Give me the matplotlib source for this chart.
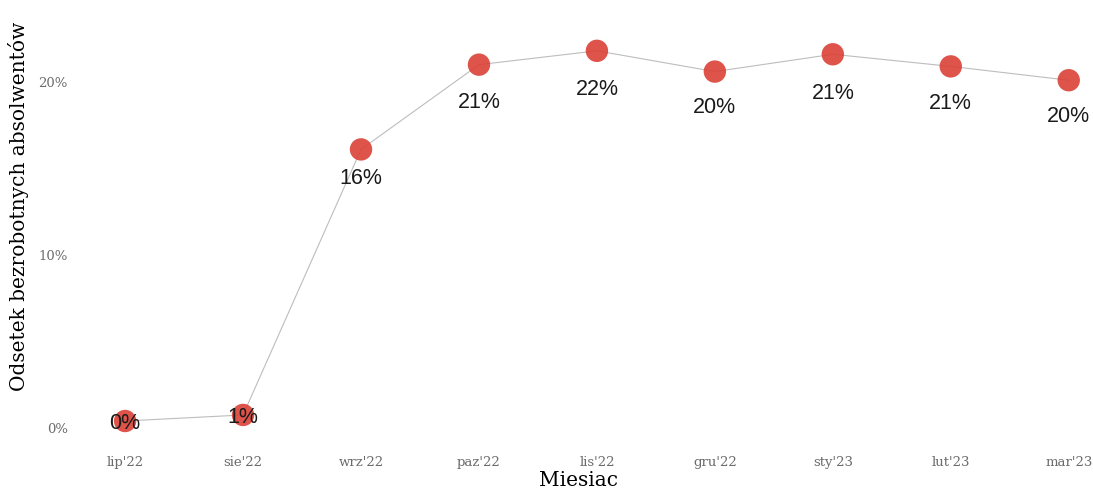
import matplotlib
matplotlib.use("Agg")
import matplotlib.pyplot as plt
from matplotlib.ticker import FuncFormatter

# dane
months = ["lip'22", "sie'22", "wrz'22", "paz'22", "lis'22", "gru'22", "sty'23", "lut'23", "mar'23"]
values = [0.4, 0.75, 16.1, 21.0, 21.8, 20.6, 21.6, 20.9, 20.1]
labels = ["0%", "1%", "16%", "21%", "22%", "20%", "21%", "21%", "20%"]

# przesuniecie etykiet w dol (punkty)
label_drop = [1.5, 1.5, 21, 27, 28, 26, 28, 27, 26]

fig = plt.figure(figsize=(10.93, 4.93), dpi=100)
ax = fig.add_axes([0.0659, 0.0913, 0.927, 0.8986])

x = list(range(len(months)))
ax.plot(x, values, color="#bdbdbd", lw=0.8, zorder=1)
ax.scatter(x, values, s=260, color="#DB4036", alpha=0.9, edgecolors="none", zorder=2)

for xi, v, lab, d in zip(x, values, labels, label_drop):
    ax.annotate(lab, (xi, v), xytext=(0, -d), textcoords="offset points",
                ha="center", va="center", fontsize=15.5, color="#1a1a1a",
                family="Liberation Sans", zorder=3)

ax.set_xlim(-0.45, 8.14)
ax.set_ylim(-1.16, 24.45)
ax.set_xticks(x)
ax.set_xticklabels(months)
ax.set_yticks([0, 10, 20])
ax.yaxis.set_major_formatter(FuncFormatter(lambda v, p: f"{v:.0f}%"))

for t in ax.get_xticklabels() + ax.get_yticklabels():
    t.set_family("DejaVu Serif")
    t.set_fontsize(9.5)
    t.set_color("#6b6b6b")
ax.tick_params(length=0, pad=3)
ax.tick_params(axis="x", pad=6)

ax.set_xlabel("Miesiac", family="DejaVu Serif", fontsize=14.5, labelpad=1)
ax.set_ylabel("Odsetek bezrobotnych absolwentów", family="DejaVu Serif", fontsize=14.5)
ax.yaxis.set_label_coords(-0.042, 0.545)

for s in ax.spines.values():
    s.set_visible(False)

fig.savefig("out.png", dpi=100)
